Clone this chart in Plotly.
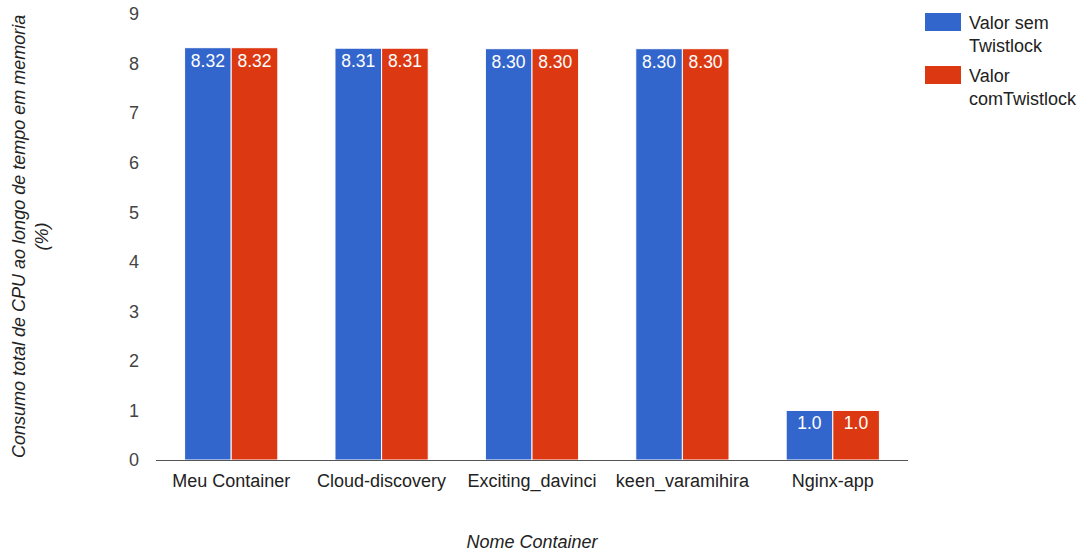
import plotly.graph_objects as go

categories = ["Meu Container", "Cloud-discovery", "Exciting_davinci", "keen_varamihira", "Nginx-app"]
sem_twistlock = [8.32, 8.31, 8.30, 8.30, 1.0]
com_twistlock = [8.32, 8.31, 8.30, 8.30, 1.0]
sem_labels = ["8.32", "8.31", "8.30", "8.30", "1.0"]
com_labels = ["8.32", "8.31", "8.30", "8.30", "1.0"]
y_ticks = [0, 1, 2, 3, 4, 5, 6, 7, 8, 9]
series_names = ["Valor sem<br>Twistlock", "Valor<br>comTwistlock"]
series_colors = ["#3366cc", "#dc3912"]

FONT = "Arial, Liberation Sans, sans-serif"
L, R, T, B = 156, 176, 14, 94
W, H = 1084, 554
PW, PH = W - L - R, H - T - B

fig = go.Figure()
for vals, labels, name, color in [(sem_twistlock, sem_labels, series_names[0], series_colors[0]),
                                  (com_twistlock, com_labels, series_names[1], series_colors[1])]:
    fig.add_trace(go.Bar(
        x=categories, y=vals, name=name,
        text=labels, textposition="inside", insidetextanchor="end",
        textangle=0, constraintext="none",
        textfont=dict(color="white", size=17.5, family=FONT),
        marker=dict(color=color, line=dict(color="white", width=1)),
        showlegend=False,
    ))

# custom legend (large swatches like the reference)
shapes = []
annotations = []
legend_tops = [13, 66]
for top, name, color in zip(legend_tops, series_names, series_colors):
    x0 = (925 - L) / PW
    x1 = (961 - L) / PW
    y0 = 1 - (top - T) / PH
    y1 = 1 - (top + 18 - T) / PH
    shapes.append(dict(type="rect", xref="paper", yref="paper", x0=x0, x1=x1,
                       y0=y1, y1=y0, fillcolor=color, line=dict(width=0)))
    annotations.append(dict(text=name, xref="paper", yref="paper",
                            x=(967 - L) / PW, y=1 - (top - 2 - T) / PH,
                            xanchor="left", yanchor="top", align="left",
                            showarrow=False,
                            font=dict(size=18, color="#222", family=FONT)))

annotations.append(dict(
    text="<i>Consumo total de CPU ao longo de tempo em memoria<br>(%)</i>",
    xref="paper", yref="paper", x=-(L - 30) / PW, y=0.5,
    xanchor="center", yanchor="middle", textangle=-90, showarrow=False,
    font=dict(size=18, color="#222", family=FONT),
))

fig.update_layout(
    width=W, height=H,
    margin=dict(l=L, r=R, t=T, b=B),
    paper_bgcolor="white", plot_bgcolor="white",
    font=dict(family=FONT, size=18, color="#444"),
    barmode="group", bargap=0.38, bargroupgap=0.0,
    showlegend=False,
    xaxis=dict(showgrid=False, showline=True, linecolor="#555", linewidth=1,
               ticks="", ticklabelstandoff=4, automargin=False,
               tickfont=dict(size=18, color="#222"),
               title=dict(text="<i>Nome Container</i>", font=dict(size=18, color="#222"),
                          standoff=44)),
    yaxis=dict(range=[0, 9], tickvals=y_ticks, showgrid=False, zeroline=False,
               showline=False, ticks="", ticklabelstandoff=16, automargin=False,
               tickfont=dict(size=18, color="#444")),
    shapes=shapes,
    annotations=annotations,
)

fig.write_html("out.html")
